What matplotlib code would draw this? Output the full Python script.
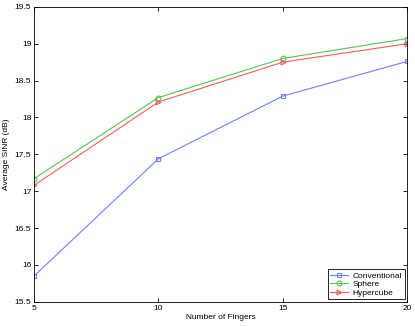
import matplotlib
matplotlib.use('Agg')
import matplotlib.pyplot as plt

fingers = [5, 10, 15, 20]
conventional = [15.85, 17.44, 18.29, 18.76]
sphere = [17.17, 18.27, 18.80, 19.07]
hypercube = [17.08, 18.21, 18.75, 19.00]
yticks = [15.5, 16, 16.5, 17, 17.5, 18, 18.5, 19, 19.5]
ytick_labels = ['15.5', '16', '16.5', '17', '17.5', '18', '18.5', '19', '19.5']

plt.rcParams['font.family'] = 'Liberation Sans'
plt.rcParams['font.size'] = 6

fig = plt.figure(figsize=(4.15, 3.26), dpi=100)
ax = fig.add_axes([0.082, 0.074, 0.899, 0.905])

ax.plot(fingers, conventional, color='#6f80ff', lw=0.8, marker='s', ms=3.5,
        mfc='none', mew=0.8, label='Conventional')
ax.plot(fingers, sphere, color='#4fc94f', lw=0.8, marker='o', ms=3.5,
        mfc='none', mew=0.8, label='Sphere')
ax.plot(fingers, hypercube, color='#ff5a5a', lw=0.8, marker='>', ms=3.5,
        mfc='none', mew=0.8, label='Hypercube')

ax.set_xlim(5, 20)
ax.set_ylim(15.5, 19.5)
ax.set_xticks(fingers)
ax.set_yticks(yticks)
ax.set_yticklabels(ytick_labels)
ax.tick_params(direction='in', length=3, width=0.6, pad=2, top=True, right=True)
for s in ax.spines.values():
    s.set_linewidth(0.6)

ax.set_xlabel('Number of Fingers', labelpad=2)
ax.set_ylabel('Average SINR (dB)', labelpad=3)

leg = ax.legend(loc='lower right', fancybox=False, edgecolor='black',
                framealpha=1, borderaxespad=0.3, handlelength=2.2,
                labelspacing=0.1, borderpad=0.3, handletextpad=0.5)
leg.get_frame().set_linewidth(0.6)

fig.savefig('out.png', dpi=100)
